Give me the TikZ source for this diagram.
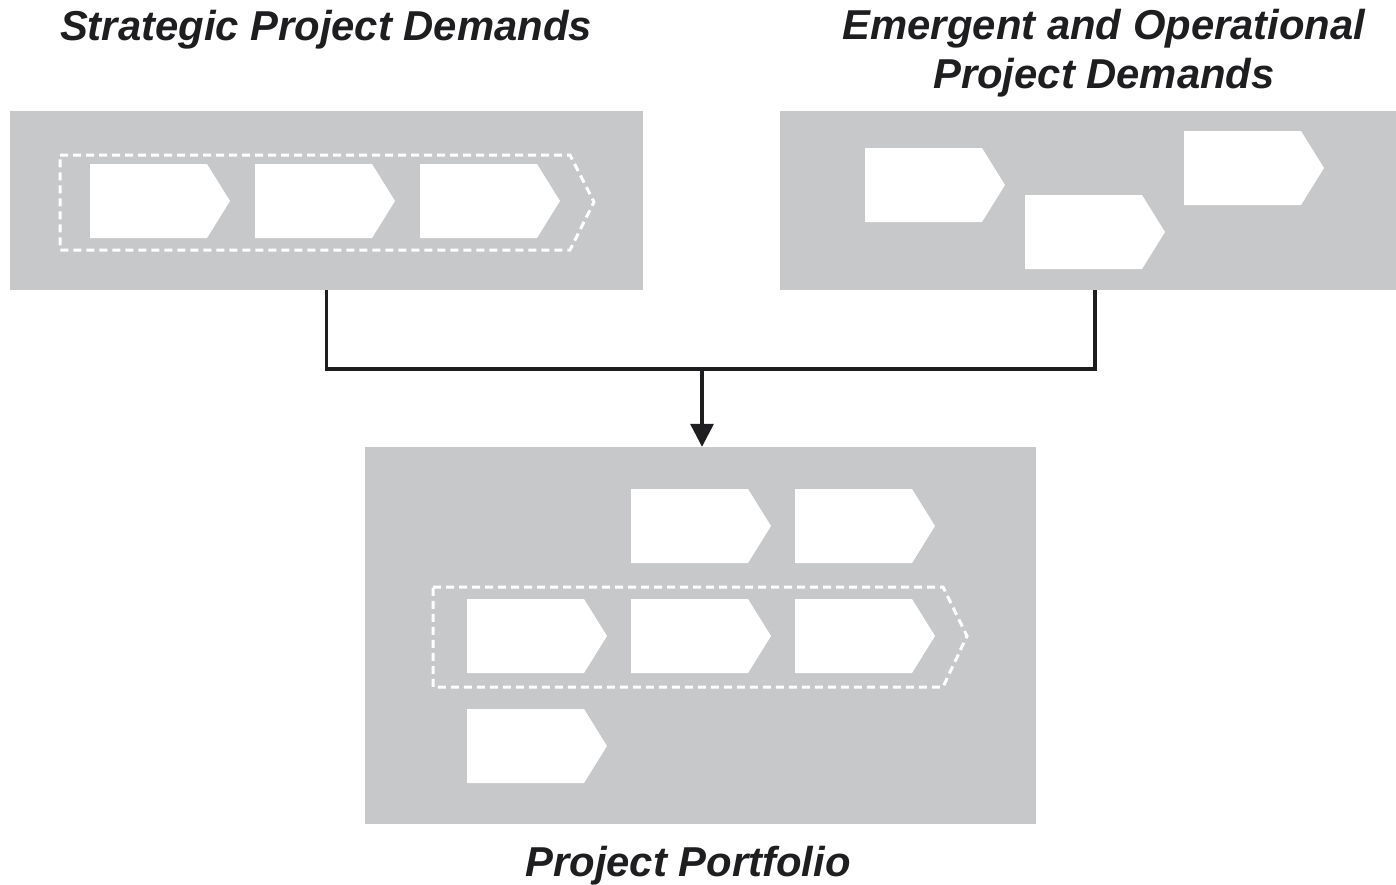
\documentclass[tikz,border=0pt]{standalone}
\usepackage{fontspec}
\setmainfont{Liberation Sans}
\usetikzlibrary{arrows.meta,calc}
\definecolor{boxgray}{RGB}{199,200,202}
\definecolor{linegray}{RGB}{30,30,32}
\newcommand{\pent}[2]{\fill[white] (#1,#2) -- ++(117,0) -- ++(23,37) -- ++(-23,37) -- ++(-117,0) -- cycle;}
\tikzset{
  box/.style={fill=boxgray, draw=none, inner sep=0pt},
  dashbox/.style={draw=white, line width=3pt, dash pattern=on 8pt off 5pt},
  conn/.style={draw=linegray, line width=3.2pt},
  title/.style={font=\bfseries\itshape\fontsize{41.8}{49}\selectfont, text=linegray, inner sep=0pt, align=center}
}
\begin{document}
\begin{tikzpicture}[x=1pt,y=-1pt]
\useasboundingbox (0,0) rectangle (1396,884);
% boxes
\node[box, minimum width=633pt, minimum height=179pt] (L) at (326.5,200.5) {};
\node[box, minimum width=616pt, minimum height=179pt] (R) at (1088,200.5) {};
\node[box, minimum width=671pt, minimum height=377pt] (P) at (700.5,635.5) {};
% strategic
\draw[dashbox] (60,155) -- (570,155) -- (594,202) -- (570,250) -- (60,250) -- cycle;
\pent{90}{164}\pent{255}{164}\pent{420}{164}
% emergent
\pent{865}{148}\pent{1025}{195}\pent{1184}{131}
% portfolio
\draw[dashbox] (433,587) -- (943,587) -- (967,636) -- (943,687) -- (433,687) -- cycle;
\pent{631}{489}\pent{795}{489}
\pent{467}{599}\pent{631}{599}\pent{795}{599}
\pent{467}{709}
% connectors
\coordinate (j) at (702,369);
\draw[conn] (L.south) |- (j) -| ($(R.south)+(7,0)$);
\draw[conn, -{Triangle[length=23pt,width=23pt]}] (j) -- (j |- P.north);
% titles
\node[title, anchor=base] (t1) at (326,40) {Strategic Project Demands};
\node[title] (t2) at (1104,53) {Emergent and Operational\\Project Demands};
\node[title, anchor=base] (t3) at (688,876) {Project Portfolio};
\end{tikzpicture}
\end{document}
